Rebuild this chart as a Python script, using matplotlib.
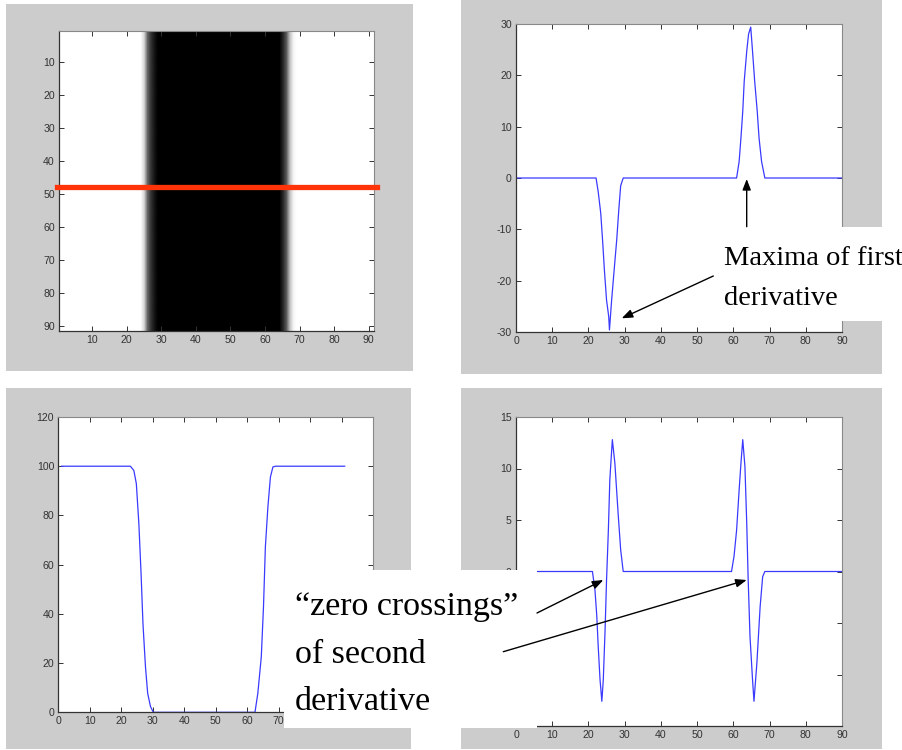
import numpy as np
import matplotlib
matplotlib.use("Agg")
import matplotlib.pyplot as plt
from matplotlib.patches import Rectangle, FancyArrowPatch
from matplotlib import font_manager as fm

# ---------------- data ----------------
# Panel 1: image column intensities (each row identical), columns 1..91
img_cols = np.array([100] * 24 + [85, 40, 20, 8, 0] + [0] * 35 + [15, 35, 75, 95] + [100] * 23, dtype=float)
img_rows = 91
scan_row = 47.7
img_xticks = [10, 20, 30, 40, 50, 60, 70, 80, 90]
img_yticks = [10, 20, 30, 40, 50, 60, 70, 80, 90]

# Panel 2: first derivative
d1_x = [0, 22.1, 22.7, 23.4, 23.9, 24.4, 25.0, 25.6, 25.8, 26.4, 27.1, 27.8, 28.4, 28.9, 29.6,
        60.9, 61.6, 62.1, 62.6, 63.0, 63.7, 64.2, 64.8, 65.3, 65.9, 66.6, 67.1, 67.8, 68.7, 90]
d1_y = [0, 0, -2.7, -6.9, -12.1, -17.9, -23.8, -27.0, -29.6, -23.8, -17.9, -12.1, -6.0, -1.5, 0,
        0, 3.2, 7.8, 13.0, 18.8, 24.7, 28.0, 29.4, 24.7, 18.8, 13.0, 7.8, 3.2, 0, 0]
d1_xticks = [0, 10, 20, 30, 40, 50, 60, 70, 80, 90]
d1_yticks = [-30, -20, -10, 0, 10, 20, 30]

# Panel 3: intensity profile
p_x = [1, 22.9, 24.0, 24.8, 25.6, 26.3, 26.9, 27.7, 28.4, 29.3, 30.2,
       62.5, 63.4, 64.5, 65.2, 65.8, 66.6, 67.4, 68.2, 69.0, 91]
p_y = [100, 100, 98.3, 92.9, 76.6, 56.4, 36.1, 18.5, 7.7, 2.3, 0,
       0, 7.7, 22.5, 42.8, 67.2, 83.4, 95.6, 99.7, 100, 100]
p_xticks = [0, 10, 20, 30, 40, 50, 60, 70, 80, 90, 100]
p_xlabels = ["0", "10", "20", "30", "40", "50", "60", "70", "", "", ""]   # 80-100 hidden under the note
p_yticks = [0, 20, 40, 60, 80, 100, 120]

# Panel 4: second derivative
d2_x = [0, 21.1, 21.8, 22.3, 22.7, 23.2, 23.7, 24.1, 24.6, 25.0, 25.5, 25.9, 26.6, 27.3, 28.2, 28.9, 29.6,
        59.5, 60.2, 60.9, 61.6, 62.1, 62.6, 63.2, 63.7, 64.1, 64.6, 65.3, 65.7, 66.5, 67.4, 68.1, 68.7, 90]
d2_y = [0, 0, -1.8, -4.3, -7.3, -10.5, -12.6, -10.5, -5.6, -0.8, 4.0, 8.9, 12.8, 10.5, 5.6, 2.1, 0,
        0, 1.5, 4.0, 7.9, 10.5, 12.8, 10.2, 4.7, -0.8, -6.3, -10.5, -12.6, -8.9, -3.4, -0.5, 0, 0]
d2_xticks = [0, 10, 20, 30, 40, 50, 60, 70, 80, 90]
d2_yticks = [-15, -10, -5, 0, 5, 10, 15]
d2_ylabels = ["", "", "", "0", "5", "10", "15"]   # negative labels hidden under the note

label_max = ["Maxima of first", "derivative"]
label_zero = ["\u201czero crossings\u201d", "of second", "derivative"]

# ---------------- style ----------------
W, H = 902, 750
plt.rcParams["axes.unicode_minus"] = False
names = {f.name for f in fm.fontManager.ttflist}
if "Liberation Sans Narrow" in names:
    tick_font, tick_size = "Liberation Sans Narrow", 8.5
elif "Liberation Sans" in names:
    tick_font, tick_size = "Liberation Sans", 7.6
else:
    tick_font, tick_size = "DejaVu Sans", 6.5
serif = ["Liberation Serif", "DejaVu Serif"]
GRAY = "#cccccc"
LINE = "#3a3aff"

fig = plt.figure(figsize=(W / 100, H / 100), dpi=100, facecolor="white")


def fx(x):
    return x / W


def fy(y):
    return 1 - y / H


def prect(x0, y0, x1, y1):
    return [fx(x0), fy(y1), (x1 - x0) / W, (y1 - y0) / H]


def add_bg(x0, y0, x1, y1, color=GRAY, z=-5):
    l, b, w, h = prect(x0, y0, x1, y1)
    fig.add_artist(Rectangle((l, b), w, h, transform=fig.transFigure,
                             facecolor=color, edgecolor="none", zorder=z))


def style_axes(ax):
    ax.set_facecolor("white")
    ax.tick_params(direction="in", length=3.5, width=0.7, top=True, right=True,
                   labelsize=tick_size, labelcolor="#333333", color="#333333", pad=3)
    for lab in ax.get_xticklabels() + ax.get_yticklabels():
        lab.set_fontfamily(tick_font)
    for side in ["left", "bottom"]:
        ax.spines[side].set_color("#333333")
        ax.spines[side].set_linewidth(0.9)
    for side in ["top", "right"]:
        ax.spines[side].set_color("#888888")
        ax.spines[side].set_linewidth(0.8)


# gray panels
add_bg(6, 4, 413, 371)
add_bg(461, 0, 882, 374)
add_bg(6, 388, 411, 749)
add_bg(461, 388, 882, 749)

# Panel 1
ax1 = fig.add_axes(prect(59, 31, 374, 331))
img = np.tile(img_cols, (img_rows, 1))
ax1.imshow(img, cmap="gray", vmin=0, vmax=100, aspect="auto", interpolation="bilinear",
           extent=(0.5, len(img_cols) + 0.5, img_rows + 0.5, 0.5))
ax1.axhline(scan_row, xmin=-0.005, xmax=1.01, color="#ff3308", linewidth=3.8, clip_on=False, zorder=4)
ax1.set_xticks(img_xticks)
ax1.set_yticks(img_yticks)
style_axes(ax1)

# Panel 2
ax2 = fig.add_axes(prect(516, 24, 842, 332))
ax2.plot(d1_x, d1_y, color=LINE, linewidth=0.9)
ax2.set_xlim(0, 90)
ax2.set_ylim(-30, 30)
ax2.set_xticks(d1_xticks)
ax2.set_yticks(d1_yticks)
style_axes(ax2)

# Panel 3
ax3 = fig.add_axes(prect(58.3, 417, 373, 712.3))
ax3.plot(p_x, p_y, color=LINE, linewidth=0.9)
ax3.set_xlim(0, 100)
ax3.set_ylim(0, 120)
ax3.set_xticks(p_xticks, p_xlabels)
ax3.set_yticks(p_yticks)
style_axes(ax3)

# Panel 4
ax4 = fig.add_axes(prect(516, 417, 842, 726))
ax4.plot(d2_x, d2_y, color=LINE, linewidth=0.9)
ax4.set_xlim(0, 90)
ax4.set_ylim(-15, 15)
ax4.set_xticks(d2_xticks)
ax4.set_yticks(d2_yticks, d2_ylabels)
style_axes(ax4)

# annotation boxes
add_bg(716.7, 226.7, 902, 320.7, color="white", z=5)
add_bg(284, 570, 537, 728, color="white", z=5)

for line, base in zip(label_max, [265, 305]):
    fig.text(fx(724), fy(base), line, fontsize=20.5, family=serif, color="black",
             ha="left", va="baseline", zorder=6)
for line, base in zip(label_zero, [615, 663, 710]):
    fig.text(fx(295), fy(base), line, fontsize=24.5, family=serif, color="black",
             ha="left", va="baseline", zorder=6)


def arrow(x0, y0, x1, y1):
    fig.add_artist(FancyArrowPatch((fx(x0), fy(y0)), (fx(x1), fy(y1)), transform=fig.transFigure,
                                   arrowstyle="-|>,head_length=0.65,head_width=0.25",
                                   mutation_scale=10, color="black", linewidth=1.0,
                                   shrinkA=0, shrinkB=0, zorder=7))


arrow(746.7, 226.7, 746.7, 179)
arrow(713.3, 276, 621.7, 318.3)
arrow(537, 613, 603.3, 580)
arrow(503.3, 651.7, 746.7, 580)

fig.savefig("out.png", dpi=100, facecolor="white")
